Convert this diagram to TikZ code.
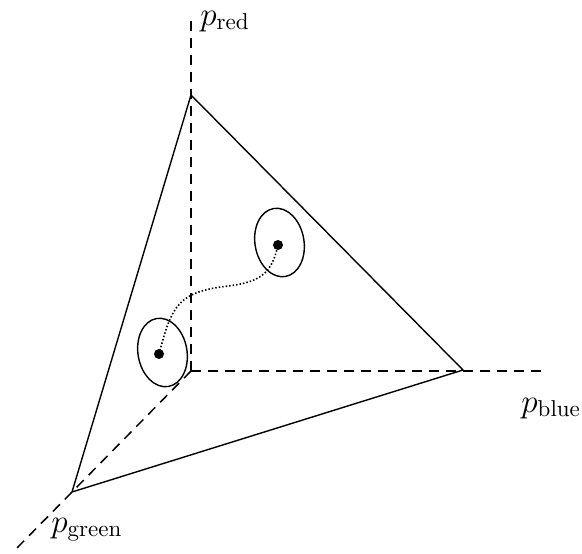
\documentclass[tikz,border=0pt]{standalone}
\usetikzlibrary{shapes.geometric}
\begin{document}
\begin{tikzpicture}[x=1pt,y=-1pt,
  axis/.style={line width=1.5pt,dash pattern=on 10pt off 7pt},
  edge/.style={line width=1.4pt},
  blob/.style={draw,ellipse,line width=1.4pt,minimum width=49pt,minimum height=69pt,inner sep=0pt,rotate=10},
  spot/.style={circle,fill=black,minimum size=10pt,inner sep=0pt},
  path/.style={line width=1.6pt,dash pattern=on 1.5pt off 2pt},
  lab/.style={font=\fontsize{14.4}{17}\selectfont,scale=2.3,inner sep=0pt}]
\useasboundingbox (0,0) rectangle (582,554);
\coordinate (O) at (191,371);
\coordinate (Rend) at (191,15);
\coordinate (Bend) at (547,371);
\coordinate (Gend) at (15,550);
\coordinate (R) at (191,95);
\coordinate (B) at (463,370);
\coordinate (G) at (72,492);
\draw[axis] (O) -- (Rend);
\draw[axis] (O) -- (Bend);
\draw[axis] (O) -- (Gend);
\draw[edge,line join=miter] (R) -- (B) -- (G) -- cycle;
\node[blob] (e1) at (279.5,242.5) {};
\node[blob] (e2) at (162.5,352.5) {};
\node[spot] (d1) at (278,245) {};
\node[spot] (d2) at (159,354) {};
\draw[path] (d2.center) .. controls (172,305) and (178,292) .. (228,286)
  .. controls (262,282) and (272,272) .. (d1.center);
\node[lab,anchor=base west] (lr) at (200,25) {$p_{\mathrm{red}}$};
\node[lab,anchor=base west] (lb) at (521,412) {$p_{\mathrm{blue}}$};
\node[lab,anchor=base west] (lg) at (51,532) {$p_{\mathrm{green}}$};
\end{tikzpicture}
\end{document}
